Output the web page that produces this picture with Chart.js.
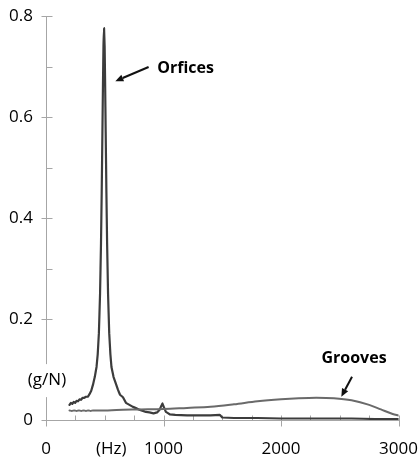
<!DOCTYPE html>
<html><head><meta charset="utf-8">
<script src="https://cdn.jsdelivr.net/npm/chart.js@4.4.1/dist/chart.umd.min.js"></script>
<style>html,body{margin:0;padding:0;background:#fff}#wrap{width:418px;height:461px;position:relative}</style>
</head><body><div id="wrap"><canvas id="c"></canvas></div>
<script>
// ---- data ----
const seriesNames = ['Orfices', 'Grooves'];
const orficesHz = [200,212,224,236,248,260,272,285,298,312,326,340,355,370,385,400,415,430,440,450,460,468,474,480,485,489,494,499,503,508,514,520,528,538,548,557,575,593,612,630,655,680,710,740,770,800,850,880,915,945,965,980,990,1002,1020,1055,1100,1200,1300,1400,1480,1500,1600,1800,2000,2200,2400,2600,2800,3000];
const orficesGN = [0.030,0.034,0.032,0.036,0.034,0.038,0.037,0.041,0.040,0.044,0.044,0.046,0.046,0.051,0.058,0.070,0.085,0.105,0.13,0.172,0.25,0.35,0.45,0.57,0.67,0.74,0.776,0.74,0.67,0.57,0.45,0.35,0.25,0.172,0.13,0.105,0.085,0.073,0.060,0.050,0.045,0.034,0.030,0.026,0.023,0.020,0.016,0.015,0.013,0.015,0.020,0.027,0.033,0.026,0.016,0.011,0.010,0.009,0.009,0.009,0.010,0.005,0.004,0.004,0.003,0.003,0.003,0.003,0.002,0.002];
const groovesHz = [200,220,240,260,280,300,320,340,360,380,400,500,600,800,1000,1200,1400,1600,1800,2000,2150,2300,2450,2600,2750,2850,2950,3000];
const groovesGN = [0.019,0.018,0.019,0.018,0.019,0.018,0.019,0.018,0.019,0.018,0.019,0.019,0.020,0.021,0.022,0.024,0.026,0.031,0.037,0.041,0.043,0.044,0.043,0.039,0.030,0.021,0.012,0.009];
const xMajorTicks = [0, 1000, 2000, 3000];
const xMinorTicks = [250, 500, 750, 1250, 1500, 1750, 2250, 2500, 2750];
const yMajorTicks = [0, 0.2, 0.4, 0.6, 0.8];
const yMinorTicks = [0.1, 0.3, 0.5, 0.7];
const xUnitLabel = '(Hz)';
const yUnitLabel = '(g/N)';

// ---- annotation placement (data units) ----
const notes = [
  {text: seriesNames[0], textAt: [1188, 0.6965], from: [873, 0.699], to: [590, 0.671]},
  {text: seriesNames[1], textAt: [2621, 0.1227], from: [2604, 0.0857], to: [2513, 0.046]}
];
const yUnitAt = [0, 0.079];
const xUnitAt = 555;

const AXIS = '#a6a6a6';
const FONT = "'Open Sans', sans-serif";

const pts = (xs, ys) => xs.map((x, i) => ({x, y: ys[i]}));

const extras = {
  id: 'extras',
  beforeDatasetsDraw(chart) {
    const {ctx, scales: {x, y}} = chart;
    ctx.save();
    ctx.strokeStyle = AXIS; ctx.lineWidth = 1;
    const x0 = Math.round(x.getPixelForValue(0)) + 0.5;
    const y0 = Math.round(y.getPixelForValue(0)) + 0.5;
    ctx.beginPath();
    yMajorTicks.forEach(v => { const p = Math.round(y.getPixelForValue(v)) + 0.5; ctx.moveTo(x0 - 5, p); ctx.lineTo(x0 + 6, p); });
    yMinorTicks.forEach(v => { const p = Math.round(y.getPixelForValue(v)) + 0.5; ctx.moveTo(x0, p); ctx.lineTo(x0 + 6, p); });
    xMajorTicks.forEach(v => { const p = Math.round(x.getPixelForValue(v)) + 0.5; ctx.moveTo(p, y0 - 5); ctx.lineTo(p, y0 + 6); });
    xMinorTicks.forEach(v => { const p = Math.round(x.getPixelForValue(v)) + 0.5; ctx.moveTo(p, y0 - 5); ctx.lineTo(p, y0); });
    ctx.stroke();
    ctx.restore();
  },
  afterDraw(chart) {
    const {ctx, scales: {x, y}} = chart;
    ctx.save();
    ctx.font = "17px " + FONT;
    ctx.textAlign = 'center'; ctx.textBaseline = 'middle';
    const ux = x.getPixelForValue(yUnitAt[0]) + 1, uy = y.getPixelForValue(yUnitAt[1]);
    const w = ctx.measureText(yUnitLabel).width;
    ctx.fillStyle = '#fff';
    ctx.fillRect(ux - w / 2 - 2, uy - 16, w + 4, 33);
    ctx.fillStyle = '#000';
    ctx.fillText(yUnitLabel, ux, uy);
    ctx.fillText(xUnitLabel, x.getPixelForValue(xUnitAt), y.getPixelForValue(0) + 29);
    notes.forEach(n => {
      ctx.font = "bold 16px " + FONT;
      ctx.fillStyle = '#000';
      ctx.fillText(n.text, x.getPixelForValue(n.textAt[0]), y.getPixelForValue(n.textAt[1]));
      const fx = x.getPixelForValue(n.from[0]), fy = y.getPixelForValue(n.from[1]);
      const tx = x.getPixelForValue(n.to[0]), ty = y.getPixelForValue(n.to[1]);
      const ang = Math.atan2(ty - fy, tx - fx);
      const hl = 8, hw = 3.5;
      const bx = tx - hl * Math.cos(ang), by = ty - hl * Math.sin(ang);
      ctx.strokeStyle = '#111'; ctx.lineWidth = 2;
      ctx.beginPath(); ctx.moveTo(fx, fy); ctx.lineTo(bx, by); ctx.stroke();
      ctx.fillStyle = '#111';
      ctx.beginPath();
      ctx.moveTo(tx, ty);
      ctx.lineTo(bx + hw * Math.sin(ang), by - hw * Math.cos(ang));
      ctx.lineTo(bx - hw * Math.sin(ang), by + hw * Math.cos(ang));
      ctx.closePath(); ctx.fill();
    });
    ctx.restore();
  }
};

new Chart(document.getElementById('c'), {
  type: 'line',
  data: {
    datasets: [
      {label: seriesNames[1], data: pts(groovesHz, groovesGN), borderColor: '#6a6a6a', borderWidth: 2, pointRadius: 0, cubicInterpolationMode: 'monotone', borderJoinStyle: 'round', borderCapStyle: 'round', fill: false},
      {label: seriesNames[0], data: pts(orficesHz, orficesGN), borderColor: '#3c3c3c', borderWidth: 2.2, pointRadius: 0, tension: 0.001, borderJoinStyle: 'round', borderCapStyle: 'round', fill: false}
    ]
  },
  options: {
    responsive: true, maintainAspectRatio: false, animation: false,
    layout: {padding: {left: 0, right: 0, top: 16, bottom: 0}},
    plugins: {legend: {display: false}, tooltip: {enabled: false}},
    scales: {
      x: {
        type: 'linear', min: 0, max: 3000,
        afterBuildTicks: s => { s.ticks = xMajorTicks.map(v => ({value: v})); },
        afterFit: s => { s.height = 41; },
        grid: {display: true, drawOnChartArea: false, drawTicks: false},
        border: {display: true, color: AXIS, width: 1},
        ticks: {font: {family: FONT, size: 17, lineHeight: 3.47}, color: '#000', padding: 0, maxRotation: 0, autoSkip: false, callback: v => String(v)}
      },
      y: {
        min: 0, max: 0.8,
        afterBuildTicks: s => { s.ticks = yMajorTicks.map(v => ({value: v})); },
        afterFit: s => { s.width = 46; },
        grid: {display: true, drawOnChartArea: false, drawTicks: false},
        border: {display: true, color: AXIS, width: 1},
        ticks: {font: {family: FONT, size: 17, lineHeight: 0.2}, color: '#000', padding: 13, autoSkip: false, callback: v => v === 0 ? '0' : v.toFixed(1)}
      }
    }
  },
  plugins: [extras]
});
</script>
</body></html>
